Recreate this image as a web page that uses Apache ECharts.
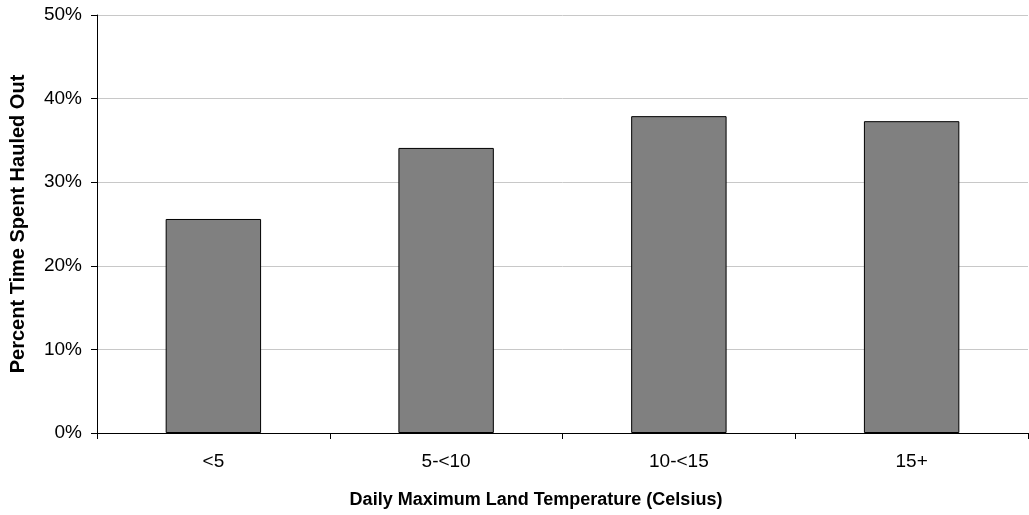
<!DOCTYPE html>
<html>
<head>
<meta charset="utf-8">
<script src="https://cdn.jsdelivr.net/npm/echarts@6/dist/echarts.min.js"></script>
<style>
html, body { margin: 0; padding: 0; background: #fff; }
#main { width: 1029px; height: 515px; }
</style>
</head>
<body>
<div id="main"></div>
<script>
var categories = ['<5', '5-<10', '10-<15', '15+'];
var hauledOut = [25.6, 34.1, 37.9, 37.3];
var yTicks = [0, 10, 20, 30, 40, 50];

var font = 'Liberation Sans, Arial, sans-serif';
var myChart = echarts.init(document.getElementById('main'));

var option = {
    animation: false,
    title: {
        text: 'Daily Maximum Land Temperature (Celsius)',
        left: 531,
        top: 486,
        textAlign: 'center',
        textStyle: { fontFamily: font, fontSize: 18, fontWeight: 'bold', color: '#000' }
    },
    grid: { left: 97, right: 1, top: 15, bottom: 82, containLabel: false, outerBoundsMode: 'none' },
    xAxis: {
        type: 'category',
        data: categories,
        axisLine: { lineStyle: { color: '#000', width: 1 } },
        axisTick: { show: true, length: 6, alignWithLabel: false, lineStyle: { color: '#000' } },
        axisLabel: { margin: 19, fontFamily: font, fontSize: 19, color: '#000' }
    },
    yAxis: {
        type: 'value',
        min: yTicks[0],
        max: yTicks[yTicks.length - 1],
        interval: 10,
        name: 'Percent Time Spent Hauled Out',
        nameLocation: 'middle',
        nameGap: 69,
        nameTextStyle: { fontFamily: font, fontSize: 20, fontWeight: 'bold', color: '#000' },
        axisLine: { show: true, lineStyle: { color: '#000', width: 1 } },
        axisTick: { show: true, length: 6, lineStyle: { color: '#000' } },
        axisLabel: { margin: 15, fontFamily: font, fontSize: 19, color: '#000', formatter: '{value}%' },
        splitLine: { show: true, lineStyle: { color: '#c8c8c8', width: 1 } }
    },
    series: [{
        type: 'bar',
        data: hauledOut,
        barWidth: '41%',
        itemStyle: { color: '#808080', borderColor: '#000', borderWidth: 1 }
    }]
};

myChart.setOption(option);
</script>
</body>
</html>
